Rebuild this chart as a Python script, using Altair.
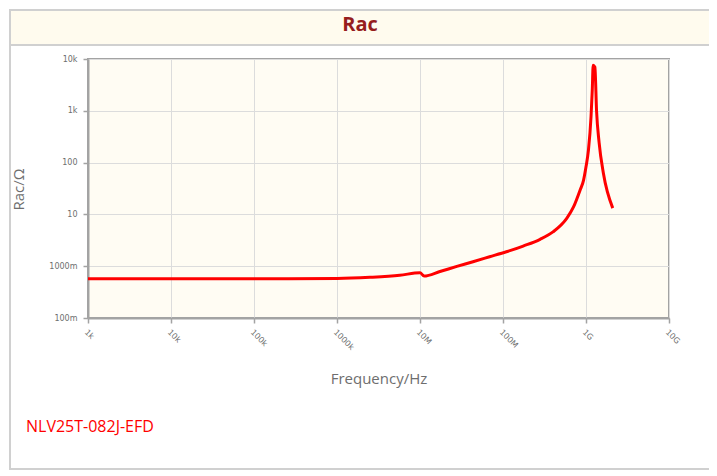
import altair as alt
import pandas as pd

# Frequency (Hz) and AC resistance (Ohm)
freq = [1e3, 1e4, 1e5, 1e6, 2.5e6, 5.7e6, 10e6, 11.2e6, 17.4e6, 27.8e6, 43.5e6, 69e6,
        110e6, 175e6, 280e6, 400e6, 586e6, 710e6, 850e6, 935e6, 1.0e9, 1.07e9, 1.15e9,
        1.19e9, 1.22e9, 1.28e9, 1.34e9, 1.44e9, 1.62e9, 2.1e9]
rac = [0.574, 0.574, 0.574, 0.58, 0.61, 0.667, 0.75, 0.647, 0.79, 0.99, 1.22, 1.52,
       1.9, 2.45, 3.3, 4.6, 8.4, 14.1, 29.6, 46, 83, 174, 776,
       2500, 7600, 7000, 1000, 240, 62, 13.2]

x_ticks = [1e3, 1e4, 1e5, 1e6, 1e7, 1e8, 1e9, 1e10]
x_labels = ["1k", "10k", "100k", "1000k", "10M", "100M", "1G", "10G"]
y_ticks = [0.1, 1, 10, 100, 1000, 10000]
y_labels = ["100m", "1000m", "10", "100", "1k", "10k"]

title_text = "Rac"
part_text = "NLV25T-082J-EFD"

df = pd.DataFrame({"f": freq, "r": rac})

x_expr = "[" + ",".join("'%s'" % s for s in x_labels) + "][round(log(datum.value)/LN10)-3]"
y_expr = "[" + ",".join("'%s'" % s for s in y_labels) + "][round(log(datum.value)/LN10)+1]"

W, H = 581, 259

one = alt.Data(values=[{}])

frame = alt.Chart(one).mark_rect(fillOpacity=0, stroke="#d0d0d0", strokeWidth=2).encode(
    x=alt.value(-78), x2=alt.value(622), y=alt.value(-49), y2=alt.value(410))

header = alt.Chart(one).mark_rect(fill="#fffbee", stroke="#d0d0d0", strokeWidth=2).encode(
    x=alt.value(-78), x2=alt.value(622), y=alt.value(-49), y2=alt.value(-14))

title = alt.Chart(one).mark_text(
    text=title_text, font="Open Sans", fontSize=20, fontWeight="bold",
    color="#961d1d", align="center", baseline="middle").encode(
    x=alt.value(272), y=alt.value(-34))

part = alt.Chart(one).mark_text(
    text=part_text, font="Open Sans", fontSize=16, color="#ff0000",
    align="left", baseline="middle").encode(
    x=alt.value(-62), y=alt.value(368))

line = alt.Chart(df).mark_line(color="#ff0000", strokeWidth=3, interpolate="monotone").encode(
    x=alt.X("f:Q", scale=alt.Scale(type="log", domain=[1e3, 1e10]),
            axis=alt.Axis(values=x_ticks, labelExpr=x_expr, title="Frequency/Hz",
                          labelAngle=45, labelAlign="left", labelBaseline="top",
                          labelPadding=5, tickSize=5, labelFlush=False, labelOverlap=False,
                          titleY=60, titleBaseline="middle", titleFontSize=15,
                          titleFont="Open Sans", titleFontWeight="normal", titleColor="#6e6e6e")),
    y=alt.Y("r:Q", scale=alt.Scale(type="log", domain=[0.1, 1e4]),
            axis=alt.Axis(values=y_ticks, labelExpr=y_expr, title="Rac/Ω",
                          labelPadding=6, tickSize=5, labelFlush=False, labelOverlap=False,
                          titleX=-70, titleY=130, titleBaseline="middle", titleAlign="center",
                          titleFontSize=15, titleFont="Open Sans", titleFontWeight="normal",
                          titleColor="#6e6e6e")),
)

chart = alt.layer(frame, header, title, part, line).properties(
    width=W, height=H,
    autosize=alt.AutoSizeParams(type="none"),
    padding={"left": 80, "top": 51, "right": 40, "bottom": 156},
    background="white",
).configure_view(
    fill="#fffcf3", stroke="#a3a3a3", strokeWidth=2
).configure_axis(
    gridColor="#dcdcdc", gridWidth=1, domainColor="#a3a3a3", domainWidth=2,
    tickColor="#a3a3a3", tickWidth=1.5, labelColor="#6e6e6e", labelFont="DejaVu Sans",
    labelFontSize=8
)

chart.save("out.html", embed_options={"renderer": "svg", "actions": False})
